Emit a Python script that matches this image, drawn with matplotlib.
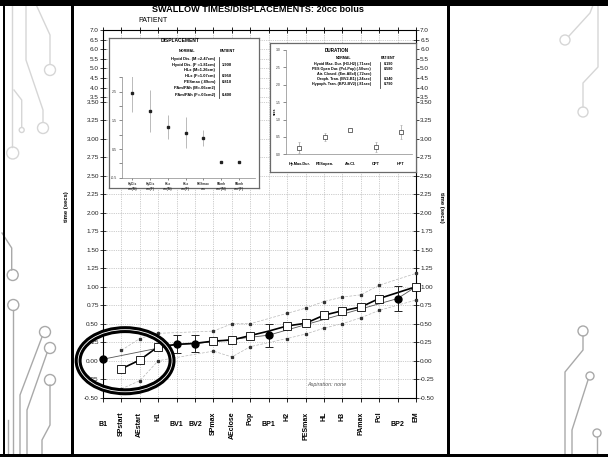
import numpy as np
import matplotlib
matplotlib.use('Agg')
from matplotlib import pyplot as plt
from matplotlib.patches import Ellipse, Rectangle
from matplotlib.lines import Line2D

plt.rcParams['font.family'] = ['Liberation Sans', 'DejaVu Sans']

W, H = 608, 457

# ---- main chart data (time, secs) ----
EVENTS = ['B1', 'SPstart', 'AEstart', 'H1', 'BV1', 'BV2', 'SPmax', 'AEclose', 'Pop', 'BP1',
          'H2', 'PESmax', 'HL', 'H3', 'PAmax', 'Pcl', 'BP2', 'EM']
FLAT_LABELS = ['B1', 'BV1', 'BV2', 'BP1', 'BP2']

normal_mean = [None, -0.11, 0.01, 0.19, 0.22, 0.235, 0.265, 0.28, 0.34, 0.40,
               0.47, 0.505, 0.615, 0.675, 0.725, 0.84, 0.92, 1.00]
normal_upper = [None, 0.14, 0.30, 0.37, None, None, 0.40, 0.50, 0.50, None,
                0.64, 0.71, 0.80, 0.86, 0.89, 1.02, None, 1.18]
normal_lower = [None, -0.38, -0.27, 0.00, None, None, 0.13, 0.05, 0.19, None,
                0.30, 0.36, 0.44, 0.50, 0.58, 0.68, None, 0.82]
square_events = ['SPstart', 'AEstart', 'H1', 'SPmax', 'AEclose', 'Pop', 'H2', 'PESmax',
                 'HL', 'H3', 'PAmax', 'Pcl', 'EM']

patient_events = ['B1', 'BV1', 'BV2', 'BP1', 'BP2']
patient_time = [0.02, 0.22, 0.23, 0.345, 0.84]
patient_hi = [None, 0.345, 0.345, 0.50, 1.01]
patient_lo = [None, 0.10, 0.12, 0.19, 0.67]
patient_line_events = ['B1', 'BV1', 'BV2', 'BP1', 'BP2', 'EM']
patient_line = [0.02, 0.22, 0.23, 0.345, 0.84, 1.00]

# ---- displacement inset ----
disp_labels = ['HyDis\ncm(M)', 'HyDis\ncm(F)', 'HLx\ncm(M)', 'HLx\ncm(F)', 'PESmax\ncm',
               'PAmh\ncm\u00b2(M)', 'PAmh\ncm\u00b2(F)']
disp_mean = [2.47, 1.81, 1.26, 1.07, 0.89, 0.06, 0.03]
disp_sd = [0.69, 0.73, 0.41, 0.53, 0.28, 0.0, 0.0]
disp_rows = ['Hyoid Dis. (M =2.47cm)', 'Hyoid Dis. (F =1.81cm)', 'HLx (M=1.26cm)',
             'HLx (F=1.07cm)', 'PESmax (.89cm)', 'PAm/PAh (M=.06cm2)', 'PAm/PAh (F=.03cm2)']
disp_patient = ['', '1.900', '', '0.950', '0.810', '', '0.400']

# ---- duration inset ----
dur_labels = ['Hy.Max.Dur.', 'PESopen.', 'Air.Cl.', 'OPT', 'HPT']
dur_value = [0.19, 0.50, 0.71, 0.22, 0.63]
dur_err = [0.15, 0.12, 0.0, 0.14, 0.20]
dur_rows = ['Hyoid Max. Dur. (H3-H2) (.71sec)', 'PES Open Dur. (Pcl-Pop) (.50sec)',
            'Air. Closed. (Em-AEcl) (.72sec)', 'Oroph. Tran. (BV2-B1) (.24sec)',
            'Hypoph. Tran. (BP2-BV2) (.81sec)']
dur_patient = ['0.190', '0.580', '', '0.340', '0.790']


def fx(x):
    return x / W


def fy(y):
    return 1 - y / H


def px_axes(fig, x0, y0, x1, y1, **kw):
    return fig.add_axes([fx(x0), fy(y1), (x1 - x0) / W, (y1 - y0) / H], **kw)


def pick(values):
    xs = [i for i, v in enumerate(values) if v is not None]
    return xs, [values[i] for i in xs]


fig = plt.figure(figsize=(W / 100, H / 100), dpi=100, facecolor='w')

# ---- slide decoration ----
light = '#d6d6d6'
mid = '#a9a9a9'
deco_lines = [
    ([12, 12], [0, 147], light), ([26, 26, 43, 43], [0, 60, 110, 122], light),
    ([34, 50, 50], [0, 35, 64], light), ([21.7, 21.7, 14], [127, 100, 90], light),
    ([2, 11.7, 11.7], [233, 248, 270], mid), ([13.3, 13.3], [310, 457], mid),
    ([42, 20, 20], [337, 395, 457], mid), ([47, 27, 27], [353, 410, 457], mid),
    ([50, 50, 42, 42], [385, 425, 440, 457], mid), ([8, 8], [420, 457], mid),
    ([569, 590, 595], [36, 13, 0], light), ([598, 598, 583, 583], [0, 67, 83, 107], light),
    ([583, 583, 565, 565], [336, 350, 372, 457], mid), ([588, 572, 572], [380, 430, 457], mid),
    ([597, 597], [437, 457], mid),
]
for xs, ys, c in deco_lines:
    fig.add_artist(Line2D([fx(v) for v in xs], [fy(v) for v in ys], color=c, lw=1.0, zorder=0.5))
deco_circles = [(12.7, 153, 6, light), (50, 70, 5.5, light), (43, 128, 5.5, light),
                (21.7, 130, 2.5, light), (12.7, 275, 5.5, mid), (13.3, 305, 5.5, mid),
                (45, 332, 5.5, mid), (50, 348, 5.5, mid), (50, 380, 5.5, mid),
                (565, 40, 5, light), (583, 112, 5, light), (583, 331, 5, mid),
                (590, 376, 4, mid), (597, 433, 4, mid)]
for cx, cy, r, c in deco_circles:
    fig.add_artist(Ellipse((fx(cx), fy(cy)), 2 * r / W, 2 * r / H, fill=False,
                           edgecolor=c, lw=1.0, zorder=0.5))

grid_kw = dict(color='#a0a0a0', linestyle=(0, (1, 1.6)), lw=0.5)
xpos = np.arange(len(EVENTS))

# ---- main lower axes ----
ax = px_axes(fig, 103, 101.7, 416, 397.7)
ax.set_xlim(0, len(EVENTS) - 1)
ax.set_ylim(-0.5, 3.5)
yt = np.arange(-0.5, 3.51, 0.25)
ax.set_yticks(yt)
ax.set_yticklabels(['%.2f' % v for v in yt])
ax.set_xticks(xpos)
ax.set_xticklabels([''] * len(EVENTS))
ax.tick_params(axis='y', left=True, right=True, labelleft=True, labelright=True,
               direction='inout', length=4, width=0.6, labelsize=4.6, pad=1, colors='#222222')
ax.tick_params(axis='x', bottom=True, top=False, direction='out', length=3, width=0.6)
ax.spines['top'].set_visible(False)
for s in ['left', 'right', 'bottom']:
    ax.spines[s].set_linewidth(0.8)
ax.grid(True, **grid_kw)
ax.set_axisbelow(True)

# normal range dots and dashed bounds
for vals in [normal_upper, normal_lower]:
    xs, ys = pick(vals)
    ax.plot(xs, ys, color='#b8b8b8', lw=0.5, ls=(0, (4, 2)), zorder=2)
    ax.plot(xs, ys, ls='none', marker='s', ms=1.4, color='#333333', zorder=3, clip_on=False)

# patient thin line
ax.plot([EVENTS.index(e) for e in patient_line_events], patient_line,
        color='#555555', lw=0.6, zorder=3)

# normal mean thick line + open squares
xs, ys = pick(normal_mean)
ax.plot(xs, ys, color='black', lw=1.2, zorder=4)
sq_x = [EVENTS.index(e) for e in square_events]
ax.plot(sq_x, [normal_mean[i] for i in sq_x], ls='none', marker='s', ms=5.2,
        mfc='white', mec='black', mew=0.6, zorder=5, clip_on=False)

# patient dots with error bars
px_ = [EVENTS.index(e) for e in patient_events]
for x, v, hi, lo in zip(px_, patient_time, patient_hi, patient_lo):
    if hi is not None:
        ax.errorbar([x], [v], yerr=[[v - lo], [hi - v]], fmt='none', ecolor='#222222',
                    elinewidth=0.7, capsize=2.6, capthick=0.7, zorder=5)
ax.plot(px_, patient_time, ls='none', marker='o', ms=5, color='black', zorder=6, clip_on=False)

# annotation ellipse
ax.add_patch(Ellipse((1.2, 0.0), 5.1, 0.84, fill=False, edgecolor='black', lw=5,
                     zorder=7, clip_on=False))
ax.add_patch(Ellipse((1.2, 0.0), 5.1, 0.84, fill=False, edgecolor='white', lw=0.6,
                     zorder=7, clip_on=False))

ax.text(12.15, -0.32, 'Aspiration: none', style='italic', fontsize=3.9,
        color='#555555', ha='center', va='center')

# category labels
for i, name in enumerate(EVENTS):
    if name in FLAT_LABELS:
        ax.text(i, -0.092, name, transform=ax.get_xaxis_transform(), ha='center', va='center',
                fontsize=5, fontweight='bold')
    else:
        ax.text(i, -0.047, name, transform=ax.get_xaxis_transform(), ha='center', va='top',
                rotation=90, fontsize=5, fontweight='bold')

# ---- upper compressed axes ----
ax2 = px_axes(fig, 103, 30, 416, 101.7)
ax2.set_xlim(0, len(EVENTS) - 1)
ax2.set_ylim(3.266, 7.0)
yt2 = np.arange(3.5, 7.01, 0.5)
ax2.set_yticks(yt2)
ax2.set_yticklabels(['%.1f' % v for v in yt2])
ax2.set_xticks(xpos)
ax2.tick_params(axis='y', left=True, right=True, labelleft=True, labelright=True,
                direction='inout', length=4, width=0.6, labelsize=4.6, pad=1, colors='#222222')
ax2.tick_params(axis='x', bottom=False, top=True, labelbottom=False, direction='inout',
                length=4, width=0.6)
ax2.spines['bottom'].set_visible(False)
for s in ['left', 'right', 'top']:
    ax2.spines[s].set_linewidth(0.8)
ax2.grid(True, **grid_kw)
ax2.patch.set_alpha(0)

# ---- displacement inset ----
b1 = px_axes(fig, 109, 38, 259, 188)
b1.set_xticks([])
b1.set_yticks([])
for s in b1.spines.values():
    s.set_color('#6a6a6a')
    s.set_linewidth(0.9)
di = px_axes(fig, 121.7, 77.3, 255, 177.7)
di.patch.set_alpha(0)
di.set_xlim(-0.6, 6.9)
di.set_ylim(-0.5, 3.0)
dpos = np.arange(len(disp_labels))
di.errorbar(dpos, disp_mean, yerr=disp_sd, fmt='none', ecolor='#b0b0b0', elinewidth=0.6)
di.plot(dpos, disp_mean, ls='none', marker='s', ms=1.8, color='#222222')
di.set_yticks(np.arange(-0.5, 3.01, 0.5))
di.set_yticklabels(['%.1f' % v if i % 2 == 0 else '' for i, v in enumerate(np.arange(-0.5, 3.01, 0.5))])
di.set_xticks(dpos)
di.set_xticklabels(disp_labels, fontsize=2.3, fontweight='bold', linespacing=1.5)
di.tick_params(axis='y', labelsize=2.6, length=2, width=0.4, pad=1.5, colors='#333333')
di.tick_params(axis='x', length=1.5, width=0.4, pad=1.5, colors='#333333')
di.spines['top'].set_visible(False)
di.spines['right'].set_visible(False)
for s in ['left', 'bottom']:
    di.spines[s].set_color('#888888')
    di.spines[s].set_linewidth(0.5)

fig.text(fx(180), fy(41), 'DISPLACEMENT', fontsize=3.5, fontweight='bold', ha='center', va='center')
fig.text(fx(186.7), fy(50.7), 'NORMAL', fontsize=2.7, fontweight='bold', ha='center', va='center')
fig.text(fx(228), fy(50.7), 'PATIENT', fontsize=2.7, fontweight='bold', ha='center', va='center')
disp_row_y = [59.3, 65, 70.3, 76.3, 81.7, 88.3, 95]
for yy, lab, pv in zip(disp_row_y, disp_rows, disp_patient):
    fig.text(fx(215), fy(yy), lab, fontsize=2.9, fontweight='bold', ha='right', va='center')
    if pv:
        fig.text(fx(221.7), fy(yy), pv, fontsize=2.9, fontweight='bold', ha='left', va='center')
fig.add_artist(Line2D([fx(219), fx(219)], [fy(56.7), fy(98.3)], color='#444444', lw=0.6))

# ---- duration inset ----
b2 = px_axes(fig, 270, 43.3, 416, 172)
b2.set_xticks([])
b2.set_yticks([])
for s in b2.spines.values():
    s.set_color('#6a6a6a')
    s.set_linewidth(0.9)
du = px_axes(fig, 285.7, 50, 412, 154.3)
du.patch.set_alpha(0)
du.set_xlim(-0.53, 4.43)
du.set_ylim(0, 3.0)
upos = np.arange(len(dur_labels))
du.errorbar(upos, dur_value, yerr=dur_err, fmt='none', ecolor='#b0b0b0', elinewidth=0.6,
            capsize=1.0, capthick=0.5)
du.plot(upos, dur_value, ls='none', marker='s', ms=3.2, mfc='white', mec='#333333', mew=0.5)
du.set_yticks(np.arange(0, 3.01, 0.5))
du.set_yticklabels(['%.1f' % v for v in np.arange(0, 3.01, 0.5)])
du.set_xticks(upos)
du.set_xticklabels(dur_labels, fontsize=2.8, fontweight='bold')
du.tick_params(axis='y', labelsize=2.4, length=2, width=0.4, pad=1.5, colors='#333333')
du.tick_params(axis='x', length=0, pad=5.5)
du.spines['top'].set_visible(False)
du.spines['right'].set_visible(False)
for s in ['left', 'bottom']:
    du.spines[s].set_color('#888888')
    du.spines[s].set_linewidth(0.5)
fig.text(fx(275), fy(111.7), 'secs', fontsize=2.4, fontweight='bold', rotation=90,
         ha='center', va='center')

fig.text(fx(336.7), fy(51), 'DURATION', fontsize=3.3, fontweight='bold', ha='center', va='center')
fig.text(fx(343.3), fy(57.7), 'NORMAL', fontsize=2.5, fontweight='bold', ha='center', va='center')
fig.text(fx(388.3), fy(58.3), 'PATIENT', fontsize=2.5, fontweight='bold', ha='center', va='center')
dur_row_y = [64.3, 69.3, 74.3, 79.3, 84]
for yy, lab, pv in zip(dur_row_y, dur_rows, dur_patient):
    fig.text(fx(371), fy(yy), lab, fontsize=2.7, fontweight='bold', ha='right', va='center')
    if pv:
        fig.text(fx(384), fy(yy), pv, fontsize=2.7, fontweight='bold', ha='left', va='center')
fig.add_artist(Line2D([fx(380), fx(380)], [fy(61.7), fy(88.3)], color='#444444', lw=0.6))

# ---- titles and axis labels ----
fig.text(fx(258), fy(12.5), 'SWALLOW TIMES/DISPLACEMENTS: 20cc bolus', fontsize=6.6,
         fontweight='bold', ha='center', va='baseline')
fig.text(fx(138), fy(20), 'PATIENT', fontsize=5.1, ha='left', va='center')
fig.text(fx(66.5), fy(207), 'time (secs)', fontsize=4.2, fontweight='bold', rotation=90,
         ha='center', va='center')
fig.text(fx(441.5), fy(207), 'time (secs)', fontsize=4.2, fontweight='bold', rotation=270,
         ha='center', va='center')

# ---- black frame of the slide ----
for x0, y0, x1, y1 in [(0, 0, 608, 5.5), (0, 453.5, 608, 457), (2.5, 0, 5, 457),
                       (70.5, 0, 73.5, 457), (447, 0, 450, 457)]:
    fig.add_artist(Rectangle((fx(x0), fy(y1)), (x1 - x0) / W, (y1 - y0) / H,
                             facecolor='black', edgecolor='none', zorder=10))

plt.savefig('out.png', dpi=100, facecolor='w')
plt.close()
